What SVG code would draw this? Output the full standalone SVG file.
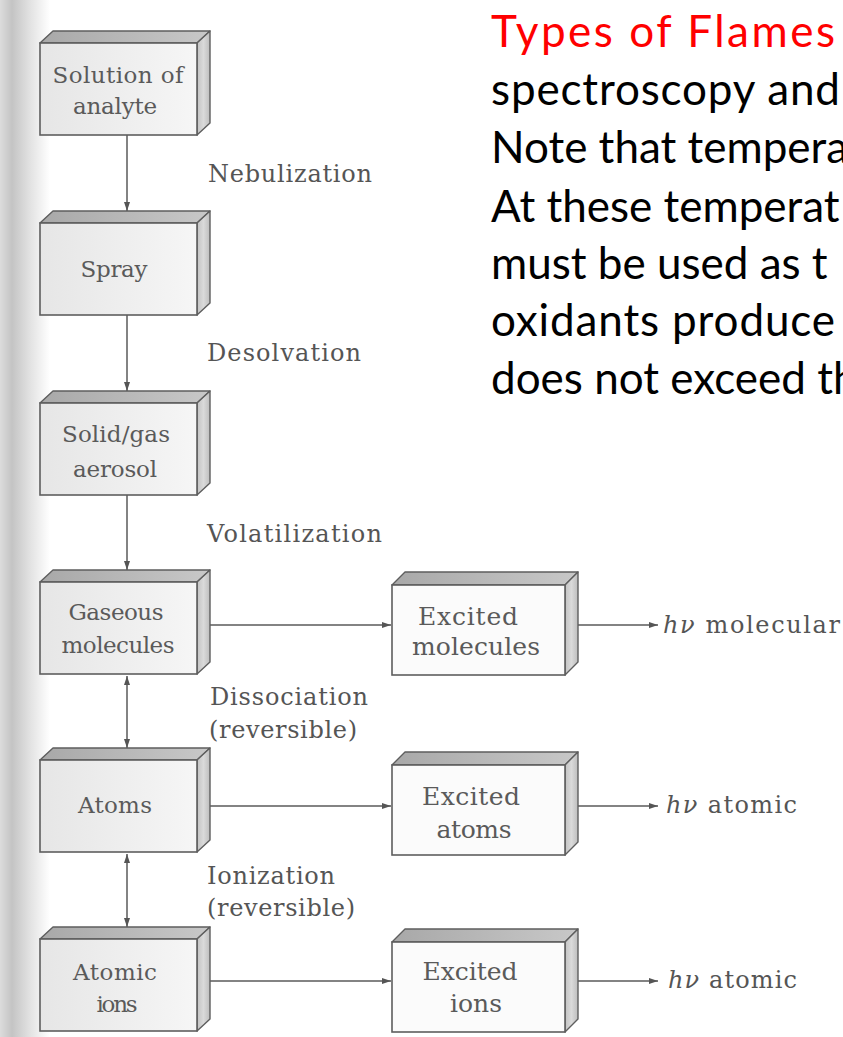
<svg xmlns="http://www.w3.org/2000/svg" width="843" height="1037" viewBox="0 0 843 1037">
<defs>
  <linearGradient id="strip" x1="0" y1="0" x2="1" y2="0">
    <stop offset="0" stop-color="#dcdcdc"/>
    <stop offset="0.24" stop-color="#c4c4c4"/>
    <stop offset="0.6" stop-color="#e2e2e2"/>
    <stop offset="1" stop-color="#ffffff"/>
  </linearGradient>
  <linearGradient id="front" x1="0" y1="0" x2="1" y2="0">
    <stop offset="0" stop-color="#e6e6e6"/>
    <stop offset="1" stop-color="#f6f6f6"/>
  </linearGradient>
  <linearGradient id="topface" x1="0" y1="0" x2="1" y2="0">
    <stop offset="0" stop-color="#a8a8a8"/>
    <stop offset="1" stop-color="#c8c8c8"/>
  </linearGradient>
  <linearGradient id="sideface" x1="0" y1="0" x2="1" y2="0">
    <stop offset="0" stop-color="#c2c2c2"/>
    <stop offset="0.5" stop-color="#dadada"/>
    <stop offset="1" stop-color="#bdbdbd"/>
  </linearGradient>
  <marker id="ah" viewBox="0 0 9 6" refX="9" refY="3" markerWidth="9" markerHeight="6" markerUnits="userSpaceOnUse" orient="auto-start-reverse">
    <path d="M0,0 L9,3 L0,6 z" fill="#555"/>
  </marker>
</defs>
<style>
  .fr { fill: url(#front); stroke: #5e5e5e; stroke-width: 1.6; }
  .frw { fill: #fbfbfb; stroke: #5e5e5e; stroke-width: 1.6; }
  .tp { fill: url(#topface); stroke: #5e5e5e; stroke-width: 1.4; stroke-linejoin: round; }
  .sd { fill: url(#sideface); stroke: #5e5e5e; stroke-width: 1.4; stroke-linejoin: round; }
  .bt { font-family: "DejaVu Serif", "Liberation Serif", serif; font-size: 23px; fill: #5a5a5a; text-anchor: middle; }
  .bt2 { font-family: "DejaVu Serif", "Liberation Serif", serif; font-size: 25px; fill: #5a5a5a; text-anchor: middle; }
  .lb { font-family: "DejaVu Serif", "Liberation Serif", serif; font-size: 24px; fill: #555; }
  .cn { stroke: #5a5a5a; stroke-width: 1.5; fill: none; }
  .sl { font-family: Lato, "Open Sans", "Liberation Sans", sans-serif; font-size: 44px; fill: #000; }
</style>
<rect x="0" y="0" width="843" height="1037" fill="#ffffff"/>
<rect x="0" y="0" width="50" height="1037" fill="url(#strip)"/>

<g id="slide-text">
  <text class="sl" x="491" y="47" fill="#ff0000" style="fill:#ff0000" textLength="344">Types of Flames</text>
  <text class="sl" x="491" y="105" textLength="349">spectroscopy and</text>
  <text class="sl" x="491" y="163">Note that tempera</text>
  <text class="sl" x="491" y="222">At these temperat</text>
  <text class="sl" x="491" y="279">must be used as t</text>
  <text class="sl" x="491" y="336" textLength="344">oxidants produce</text>
  <text class="sl" x="491" y="394">does not exceed th</text>
</g>

<g id="connectors">
  <line class="cn" x1="127" y1="135" x2="127" y2="211" marker-end="url(#ah)"/>
  <line class="cn" x1="127" y1="315" x2="127" y2="391" marker-end="url(#ah)"/>
  <line class="cn" x1="127" y1="495" x2="127" y2="570" marker-end="url(#ah)"/>
  <line class="cn" x1="127" y1="676" x2="127" y2="748" marker-start="url(#ah)" marker-end="url(#ah)"/>
  <line class="cn" x1="127" y1="854" x2="127" y2="927" marker-start="url(#ah)" marker-end="url(#ah)"/>
  <line class="cn" x1="204" y1="625" x2="391" y2="625" marker-end="url(#ah)"/>
  <line class="cn" x1="204" y1="806" x2="391" y2="806" marker-end="url(#ah)"/>
  <line class="cn" x1="204" y1="981" x2="391" y2="981" marker-end="url(#ah)"/>
  <line class="cn" x1="571" y1="625" x2="658" y2="625" marker-end="url(#ah)"/>
  <line class="cn" x1="571" y1="806" x2="658" y2="806" marker-end="url(#ah)"/>
  <line class="cn" x1="571" y1="981" x2="658" y2="981" marker-end="url(#ah)"/>
</g>

<g id="connector-labels">
  <text class="lb" x="208" y="182" textLength="164">Nebulization</text>
  <text class="lb" x="207" y="361" textLength="154">Desolvation</text>
  <text class="lb" x="207" y="542" textLength="175">Volatilization</text>
  <text class="lb" x="210" y="705" textLength="158">Dissociation</text>
  <text class="lb" x="209" y="738" textLength="148">(reversible)</text>
  <text class="lb" x="207" y="884" textLength="128">Ionization</text>
  <text class="lb" x="207" y="916" textLength="148">(reversible)</text>
  <text class="lb" x="663" y="633" textLength="177"><tspan font-style="italic">hν</tspan> molecular</text>
  <text class="lb" x="666" y="813" textLength="131"><tspan font-style="italic">hν</tspan> atomic</text>
  <text class="lb" x="668" y="988" textLength="129"><tspan font-style="italic">hν</tspan> atomic</text>
</g>

<g id="solution">
  <polygon class="tp" points="40,43 53,31 210,31 197,43"/>
  <polygon class="sd" points="197,43 210,31 210,123 197,135"/>
  <rect class="fr" x="40" y="43" width="157" height="92"/>
  <text class="bt" x="118" y="83" textLength="131">Solution of</text>
  <text class="bt" x="115" y="114" textLength="84">analyte</text>
</g>
<g id="spray">
  <polygon class="tp" points="40,223 53,211 210,211 197,223"/>
  <polygon class="sd" points="197,223 210,211 210,303 197,315"/>
  <rect class="fr" x="40" y="223" width="157" height="92"/>
  <text class="bt" x="114" y="277" textLength="67">Spray</text>
</g>
<g id="aerosol">
  <polygon class="tp" points="40,403 53,391 210,391 197,403"/>
  <polygon class="sd" points="197,403 210,391 210,483 197,495"/>
  <rect class="fr" x="40" y="403" width="157" height="92"/>
  <text class="bt" x="116" y="442" textLength="108">Solid/gas</text>
  <text class="bt" x="115" y="477" textLength="84">aerosol</text>
</g>
<g id="gaseous-molecules">
  <polygon class="tp" points="40,582 53,570 210,570 197,582"/>
  <polygon class="sd" points="197,582 210,570 210,662 197,674"/>
  <rect class="fr" x="40" y="582" width="157" height="92"/>
  <text class="bt" x="116" y="620" textLength="95">Gaseous</text>
  <text class="bt" x="118" y="653" textLength="113">molecules</text>
</g>
<g id="atoms">
  <polygon class="tp" points="40,760 53,748 210,748 197,760"/>
  <polygon class="sd" points="197,760 210,748 210,840 197,852"/>
  <rect class="fr" x="40" y="760" width="157" height="92"/>
  <text class="bt" x="115" y="813" textLength="74">Atoms</text>
</g>
<g id="atomic-ions">
  <polygon class="tp" points="40,939 53,927 210,927 197,939"/>
  <polygon class="sd" points="197,939 210,927 210,1019 197,1031"/>
  <rect class="fr" x="40" y="939" width="157" height="92"/>
  <text class="bt" x="115" y="980" textLength="84">Atomic</text>
  <text class="bt" x="117" y="1012" textLength="41">ions</text>
</g>
<g id="excited-molecules">
  <polygon class="tp" points="392,585 405,572 578,572 565,585"/>
  <polygon class="sd" points="565,585 578,572 578,662 565,675"/>
  <rect class="frw" x="392" y="585" width="173" height="90"/>
  <text class="bt2" x="468" y="625" textLength="100">Excited</text>
  <text class="bt2" x="476" y="655" textLength="128">molecules</text>
</g>
<g id="excited-atoms">
  <polygon class="tp" points="392,765 405,752 578,752 565,765"/>
  <polygon class="sd" points="565,765 578,752 578,842 565,855"/>
  <rect class="frw" x="392" y="765" width="173" height="90"/>
  <text class="bt2" x="471" y="805" textLength="98">Excited</text>
  <text class="bt2" x="474" y="838" textLength="75">atoms</text>
</g>
<g id="excited-ions">
  <polygon class="tp" points="392,942 405,929 578,929 565,942"/>
  <polygon class="sd" points="565,942 578,929 578,1019 565,1032"/>
  <rect class="frw" x="392" y="942" width="173" height="90"/>
  <text class="bt2" x="470" y="980" textLength="95">Excited</text>
  <text class="bt2" x="476" y="1012" textLength="52">ions</text>
</g>
</svg>
